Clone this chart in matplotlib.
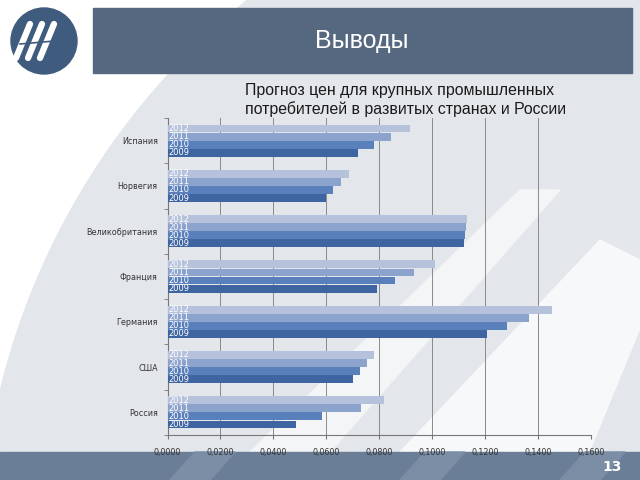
import matplotlib
matplotlib.use("Agg")
import matplotlib.pyplot as plt
import matplotlib.patches as mpatches
import matplotlib.ticker as ticker
import numpy as np

# ── Data ───────────────────────────────────────────────────────────────────────
countries = ["Испания", "Норвегия", "Великобритания", "Франция",
             "Германия", "США", "Россия"]
years = ["2012", "2011", "2010", "2009"]
v2012 = [0.0916, 0.0686, 0.1133, 0.1011, 0.1454, 0.0779, 0.0818]
v2011 = [0.0844, 0.0654, 0.1128, 0.0932, 0.1367, 0.0753, 0.0730]
v2010 = [0.0780, 0.0625, 0.1125, 0.0860, 0.1284, 0.0727, 0.0584]
v2009 = [0.0720, 0.0598, 0.1120, 0.0791, 0.1206, 0.0702, 0.0487]
series = [v2012, v2011, v2010, v2009]
year_colors = ["#b6c2dc", "#8ca3cd", "#5a80bc", "#3e64a2"]

title = "Выводы"
subtitle = "Прогноз цен для крупных промышленных\nпотребителей в развитых странах и России"
page_no = "13"

# ── Figure + slide background ─────────────────────────────────────────────────
fig = plt.figure(figsize=(6.4, 4.8), dpi=100)
bg = fig.add_axes([0, 0, 1, 1], zorder=0)
bg.set_xlim(0, 640)
bg.set_ylim(480, 0)
bg.axis("off")
bg.add_patch(mpatches.Rectangle((0, 0), 640, 480, color="white"))
bg.add_patch(mpatches.Circle((700, 560), 720, color="#e3e6ea"))
# white diagonal swooshes
bg.add_patch(mpatches.Polygon([(250, 452), (330, 452), (560, 190), (520, 190)],
                              color="#f4f5f7"))
bg.add_patch(mpatches.Polygon([(400, 452), (640, 452), (640, 260), (600, 240)],
                              color="#f7f8f9"))
bg.add_patch(mpatches.Polygon([(590, 452), (640, 452), (640, 330)], color="#e3e6ea"))

# header bar
bg.add_patch(mpatches.Rectangle((93, 8), 539, 65, color="#56687f"))
bg.text(362, 41, title, color="white", fontsize=18, ha="center", va="center",
        family="Liberation Sans")

# logo
bg.add_patch(mpatches.Circle((44, 41), 33, color="#3f5b7e"))
for dx in (-14, -2, 10):
    bg.plot([30 + dx, 44 + dx], [58, 24], color="white", lw=4.5,
            solid_capstyle="round")
bg.plot([20, 66], [44, 40], color="#3f5b7e", lw=1.2)

# footer bar
bg.add_patch(mpatches.Rectangle((0, 452), 640, 28, color="#6a7e98"))
for x0 in (170, 400, 560):
    bg.add_patch(mpatches.Polygon([(x0, 480), (x0 + 40, 480), (x0 + 65, 452),
                                   (x0 + 25, 452)], color="#7b8ea6"))
bg.text(612, 467, page_no, color="white", fontsize=10, fontweight="bold",
        ha="center", va="center")

bg.text(245, 100, subtitle, color="#1a1a1a", fontsize=11.4, ha="left",
        va="center", linespacing=1.2, family="Liberation Sans")

# ── Chart ─────────────────────────────────────────────────────────────────────
ax = fig.add_axes([167.5 / 640, 1 - 435 / 480, (591 - 167.5) / 640, (435 - 118) / 480],
                  zorder=2)
ax.patch.set_alpha(0)

n = len(countries)
bar_h = 0.178
pos = np.arange(n)
for k, (yr, vals, col) in enumerate(zip(years, series, year_colors)):
    y = pos + (k - 1.5) * bar_h
    ax.barh(y, vals, height=bar_h * 0.97, color=col, edgecolor="none", zorder=3)
    for yy in y:
        ax.text(0.0004, yy, yr, color="white", fontsize=6, va="center",
                ha="left", zorder=4)

ax.set_ylim(n - 0.5, -0.5)
ax.set_xlim(0, 0.16)
ax.xaxis.set_major_locator(ticker.MultipleLocator(0.02))
ax.xaxis.set_major_formatter(ticker.FuncFormatter(lambda v, _: f"{v:.4f}".replace(".", ",")))
ax.set_yticks(pos)
ax.set_yticklabels(countries)
ax.set_yticks(np.arange(n + 1) - 0.5, minor=True)
ax.tick_params(axis="y", which="major", length=0, labelsize=5.8, labelcolor="#333333", pad=7)
ax.tick_params(axis="y", which="minor", length=3, color="#777777")
ax.tick_params(axis="x", length=3, color="#777777", labelsize=5.8,
               labelcolor="#333333", pad=6)
ax.grid(axis="x", color="#8a8a8a", linewidth=0.7, zorder=1)
for side in ("top", "right"):
    ax.spines[side].set_visible(False)
for side in ("left", "bottom"):
    ax.spines[side].set_color("#777777")
    ax.spines[side].set_linewidth(0.8)

fig.savefig("out.png", dpi=100)
